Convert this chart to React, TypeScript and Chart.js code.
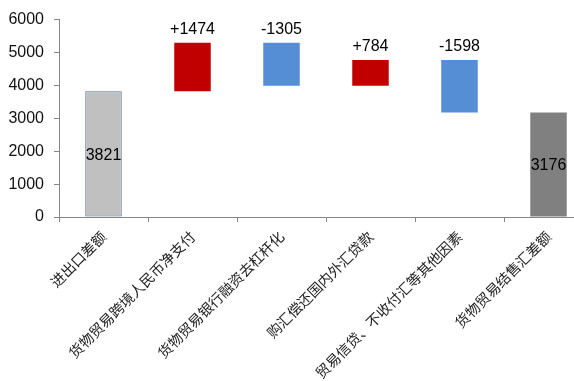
import React, { useEffect, useRef } from "react";
import { Chart, registerables } from "chart.js";

Chart.register(...registerables);

const categories = [
  "进出口差额",
  "货物贸易跨境人民币净支付",
  "货物贸易银行融资去杠杆化",
  "购汇偿还国内外汇贷款",
  "贸易信贷、不收付汇等其他因素",
  "货物贸易结售汇差额",
];
const barStarts = [0, 3821, 3990, 3990, 3176, 0];
const barEnds = [3821, 5295, 5295, 4774, 4774, 3176];
const valueLabels = ["3821", "+1474", "-1305", "+784", "-1598", "3176"];
const isTotal = [true, false, false, false, false, true];
const barColors = ["#C0C0C0", "#C00000", "#558ED5", "#C00000", "#558ED5", "#808080"];
const yTicks = [0, 1000, 2000, 3000, 4000, 5000, 6000];

const labelPlugin = {
  id: "valueLabels",
  afterDatasetsDraw(chart: any) {
    const ctx = chart.ctx;
    const meta = chart.getDatasetMeta(0);
    ctx.save();
    ctx.font = "16px 'Liberation Sans', Arial, sans-serif";
    ctx.fillStyle = "#000";
    ctx.textAlign = "center";
    ctx.textBaseline = "middle";
    meta.data.forEach((el: any, i: number) => {
      const yTop = chart.scales.y.getPixelForValue(barEnds[i]);
      const yBot = chart.scales.y.getPixelForValue(barStarts[i]);
      if (isTotal[i]) {
        ctx.fillText(valueLabels[i], el.x, (yTop + yBot) / 2 + 1);
      } else {
        ctx.fillText(valueLabels[i], el.x, yTop - 13);
      }
    });
    ctx.restore();
  },
};

export default function App() {
  const ref = useRef<HTMLCanvasElement>(null);
  useEffect(() => {
    if (!ref.current) return;
    const chart = new Chart(ref.current, {
      type: "bar",
      data: {
        labels: categories,
        datasets: [
          {
            data: barStarts.map((s, i) => [s, barEnds[i]]) as any,
            backgroundColor: barColors,
            borderColor: ["#4F6C9B", "rgba(0,0,0,0)", "rgba(0,0,0,0)", "rgba(0,0,0,0)", "rgba(0,0,0,0)", "rgba(0,0,0,0)"],
            borderWidth: [1, 0, 0, 0, 0, 0],
            borderSkipped: false,
            categoryPercentage: 1,
            barPercentage: 0.41,
          },
        ],
      },
      options: {
        responsive: false,
        animation: false,
        devicePixelRatio: 1,
        layout: { padding: { top: 16, right: 7, left: 0, bottom: 0 } },
        plugins: { legend: { display: false }, tooltip: { enabled: false } },
        scales: {
          x: {
            grid: { display: true, drawOnChartArea: false, drawTicks: true, tickLength: 5, color: "#868686", offset: true },
            border: { display: true, color: "#868686" },
            ticks: {
              autoSkip: false,
              maxRotation: 45,
              minRotation: 45,
              padding: 6,
              color: "#222",
              font: { family: "'Noto Sans CJK SC', sans-serif", size: 14.3 },
            },
            afterFit: (s: any) => {
              s.height = 164;
            },
          },
          y: {
            min: 0,
            max: 6000,
            afterBuildTicks: (s: any) => {
              s.ticks = yTicks.map((v) => ({ value: v }));
            },
            grid: { display: true, drawOnChartArea: false, drawTicks: true, tickLength: 5, color: "#868686" },
            border: { display: true, color: "#868686" },
            ticks: {
              padding: 10,
              color: "#111",
              font: { family: "'Liberation Sans', Arial, sans-serif", size: 16 },
              callback: (v: any) => String(v),
            },
            afterFit: (s: any) => {
              s.width = 59;
            },
          },
        },
      },
      plugins: [labelPlugin],
    });
    return () => chart.destroy();
  }, []);
  return (
    <div style={{ position: "fixed", left: 0, top: 0, width: 574, height: 381, overflow: "hidden", background: "#fff" }}>
      <canvas ref={ref} width={600} height={381} style={{ display: "block" }} />
    </div>
  );
}
